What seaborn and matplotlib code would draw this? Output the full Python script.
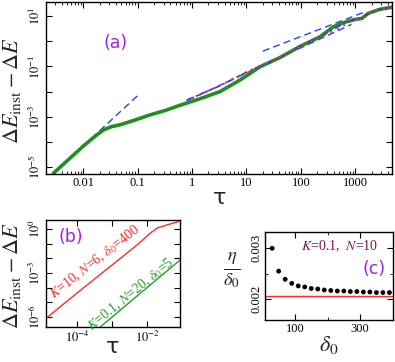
import numpy as np
import pandas as pd
import matplotlib
matplotlib.use("Agg")
import matplotlib.pyplot as plt
import seaborn as sns
from matplotlib.ticker import FixedLocator, FuncFormatter, NullFormatter, LogLocator

sns.set_theme(style="ticks")
plt.rcParams["font.family"] = ["Liberation Serif", "DejaVu Serif"]
plt.rcParams["mathtext.fontset"] = "stix"

# ---------------- panel (a) data ----------------
tau_green = [0.00282, 0.01, 0.0176, 0.0234, 0.0331, 0.0468, 0.0832, 0.170, 0.339, 0.631,
             1.32, 3.24, 7.59, 17.8, 41.7, 95.5, 224, 398, 603, 912, 1318, 1738, 2818, 4677]
val_green = [5.75e-6, 6.9e-5, 1.9e-4, 3.0e-4, 4.1e-4, 4.8e-4, 7.1e-4, 1.2e-3, 1.86e-3, 3.0e-3,
             5.0e-3, 0.010, 0.0288, 0.0977, 0.229, 0.617, 1.51, 3.8, 5.5, 7.1, 8.1, 12.9, 18.6, 22.4]

tau_red = [1.0, 3.16, 10, 20, 41.7, 95.5, 224, 355, 501, 708, 912, 1318, 1738, 2818, 4677]
val_red = [5.5e-3, 0.017, 0.060, 0.117, 0.234, 0.617, 1.45, 2.29, 3.3, 5.25, 6.9, 8.3, 12.9, 18.6, 22.4]

tau_bluedd = [0.79, 3.16, 10, 20, 41.7, 95.5, 224, 398, 603, 912, 1318, 1738, 2818, 4677]
val_bluedd = [4.6e-3, 0.0166, 0.059, 0.115, 0.232, 0.62, 1.48, 3.1, 4.9, 6.9, 8.2, 12.9, 18.6, 22.4]

guide1_tau = [0.0025, 0.1]
guide1_val = [4.4e-6, 7.0e-3]
guide2_tau = [0.8, 850]
guide2_val = [4.4e-3, 4.68]
guide3_tau = [20, 1514]
guide3_val = [0.407, 14.8]

# ---------------- panel (b) data ----------------
tau_b_red = [1.3e-5, 1e-4, 1e-3, 5.0e-3, 0.0123, 0.019, 0.0363, 0.0794]
val_b_red = [8.1e-7, 4.3e-5, 3.5e-3, 0.0759, 0.513, 1.12, 1.86, 3.16]
tau_b_green = [4.0e-4, 6.3e-3, 0.0871]
val_b_green = [1.58e-7, 4.0e-5, 7.6e-3]

# ---------------- panel (c) data ----------------
delta0 = [30, 50, 70, 90, 110, 130, 150, 170, 190, 210, 230, 250, 270, 290, 310, 330, 350, 370, 390]
eta_over_delta0 = [0.00300, 0.00255, 0.00239, 0.00231, 0.00226, 0.00224, 0.00221, 0.00220, 0.00218,
                   0.00217, 0.00216, 0.00216, 0.00215, 0.00215, 0.00214, 0.00214, 0.00213, 0.00213, 0.00213]
limit_value = [0.00207]

W, H = 395, 362
fig = plt.figure(figsize=(W / 100, H / 100), dpi=100)
fig.patch.set_facecolor("white")


def box(l, t, r, b):
    return [l / W, 1 - b / H, (r - l) / W, (b - t) / H]


GREEN = "#1f8f1f"
RED = "#ff2a2a"
BLUE = "#2a3cff"
PURPLE = "#a020f0"
MAROON = "#7a1550"


def style_axes(ax):
    for s in ax.spines.values():
        s.set_linewidth(1.0)
        s.set_color("black")
    ax.tick_params(which="both", direction="in", top=True, right=True, colors="black",
                   labelsize=9, pad=2)
    ax.tick_params(which="major", length=4, width=0.8)
    ax.tick_params(which="minor", length=2, width=0.6)
    ax.set_facecolor("white")
    ax.grid(False)


def sup_fmt(labeled):
    def f(v, pos):
        e = int(round(np.log10(v)))
        if e in labeled:
            return r"$10^{%d}$" % e
        return ""
    return f


DASH = (0, (5, 3))

# ---------------- panel (a) ----------------
axa = fig.add_axes(box(46, 2, 392, 174))
style_axes(axa)
axa.set_xscale("log")
axa.set_yscale("log")
sns.lineplot(x=guide1_tau, y=guide1_val, ax=axa, color=BLUE, lw=1.0, linestyle=DASH, sort=False)
sns.lineplot(x=guide2_tau, y=guide2_val, ax=axa, color=BLUE, lw=1.0, linestyle=DASH, sort=False)
sns.lineplot(x=guide3_tau, y=guide3_val, ax=axa, color=BLUE, lw=1.0, linestyle=DASH, sort=False)
sns.lineplot(x=tau_green, y=val_green, ax=axa, color=GREEN, lw=2.6, sort=False)
sns.lineplot(x=tau_bluedd, y=val_bluedd, ax=axa, color=BLUE, lw=1.2, linestyle=(0, (4, 2, 1, 2)), sort=False)
sns.lineplot(x=tau_red, y=val_red, ax=axa, color=RED, lw=1.5, linestyle=(0, (1, 2.5)), sort=False)
axa.set_xlim(10 ** -2.686, 10 ** 3.675)
axa.set_ylim(10 ** -5.27, 10 ** 1.56)
axa.xaxis.set_major_locator(FixedLocator([0.01, 0.1, 1, 10, 100, 1000]))
axa.xaxis.set_major_formatter(FuncFormatter(lambda v, p: "%g" % v))
axa.xaxis.set_minor_locator(LogLocator(base=10, subs=np.arange(2, 10)))
axa.xaxis.set_minor_formatter(NullFormatter())
axa.yaxis.set_major_locator(FixedLocator([10.0 ** e for e in range(-5, 2)]))
axa.yaxis.set_major_formatter(FuncFormatter(sup_fmt([1, -1, -3, -5])))
axa.yaxis.set_minor_locator(FixedLocator([]))
for lab in axa.get_yticklabels():
    lab.set_rotation(90)
    lab.set_va("center")
axa.set_xlabel("")
axa.set_ylabel("")
fig.text(115.5 / W, 1 - 43 / H, "(a)", color=PURPLE, fontsize=12.5, family="DejaVu Sans",
         ha="center", va="center")

# ---------------- panel (b) ----------------
axb = fig.add_axes(box(46, 220, 180, 327))
style_axes(axb)
axb.set_xscale("log")
axb.set_yscale("log")
sns.lineplot(x=tau_b_red, y=val_b_red, ax=axb, color=RED, lw=1.0, sort=False)
sns.lineplot(x=tau_b_green, y=val_b_green, ax=axb, color="#22a022", lw=1.0, sort=False)
axb.set_xlim(10 ** -4.886, 10 ** -1.06)
axb.set_ylim(10 ** -6.68, 10 ** 0.61)
axb.xaxis.set_major_locator(FixedLocator([10.0 ** e for e in range(-4, 0)]))
axb.xaxis.set_major_formatter(FuncFormatter(sup_fmt([-4, -2])))
axb.xaxis.set_minor_locator(FixedLocator([]))
axb.yaxis.set_major_locator(FixedLocator([10.0 ** e for e in range(-6, 1)]))
axb.yaxis.set_major_formatter(FuncFormatter(sup_fmt([0, -3, -6])))
axb.yaxis.set_minor_locator(FixedLocator([]))
for lab in axb.get_yticklabels():
    lab.set_rotation(90)
    lab.set_va("center")
axb.set_xlabel("")
axb.set_ylabel("")
fig.text(71 / W, 1 - 237.5 / H, "(b)", color=PURPLE, fontsize=12.5, family="DejaVu Sans",
         ha="center", va="center")
fig.text(95 / W, 1 - 262 / H, r"$K$=10, $N$=6, $\delta_0$=400", color=RED, fontsize=10,
         rotation=38, ha="center", va="center", rotation_mode="anchor")
fig.text(131 / W, 1 - 294 / H, r"$K$=0.1, $N$=20, $\delta_0$=5", color="#22a022", fontsize=10,
         rotation=39, ha="center", va="center", rotation_mode="anchor")

# ---------------- panel (c) ----------------
axc = fig.add_axes(box(265, 232, 393, 320))
style_axes(axc)
axc.axhline(limit_value[0], color=RED, lw=1.0)
sns.scatterplot(x=delta0, y=eta_over_delta0, ax=axc, color="black", s=12, edgecolor="none", zorder=3)
axc.set_xlim(8, 401)
axc.set_ylim(0.00159, 0.00332)
axc.xaxis.set_major_locator(FixedLocator([100, 300]))
axc.xaxis.set_minor_locator(FixedLocator([200]))
axc.yaxis.set_major_locator(FixedLocator([0.002, 0.003]))
axc.yaxis.set_major_formatter(FuncFormatter(lambda v, p: "%.3f" % v))
axc.yaxis.set_minor_locator(FixedLocator([0.0025]))
for lab in axc.get_yticklabels():
    lab.set_rotation(90)
    lab.set_va("center")
axc.set_xlabel("")
axc.set_ylabel("")
fig.text(340 / W, 1 - 246 / H, r"$K$=0.1,  $N$=10", color=MAROON, fontsize=10,
         ha="center", va="center")
fig.text(374 / W, 1 - 269 / H, "(c)", color=PURPLE, fontsize=12.5, family="DejaVu Sans",
         ha="center", va="center")

# ---------------- axis labels ----------------
ylab = r"$\Delta E_{\rm inst} - \Delta E$"
fig.text(12 / W, 1 - 90 / H, ylab, rotation=90, fontsize=16, ha="center", va="center")
fig.text(12 / W, 1 - 275 / H, ylab, rotation=90, fontsize=16, ha="center", va="center")
fig.text(220 / W, 1 - 198 / H, "τ", fontsize=16, family="DejaVu Sans", ha="center", va="center")
fig.text(113 / W, 1 - 347 / H, "τ", fontsize=16, family="DejaVu Sans", ha="center", va="center")
fig.text(329 / W, 1 - 345 / H, r"$\delta_0$", fontsize=16, ha="center", va="center")
fig.text(232 / W, 1 - 270 / H, r"$\frac{\eta}{\delta_0}$", fontsize=19, ha="center", va="center")

fig.savefig("out.png", dpi=100, facecolor="white")
